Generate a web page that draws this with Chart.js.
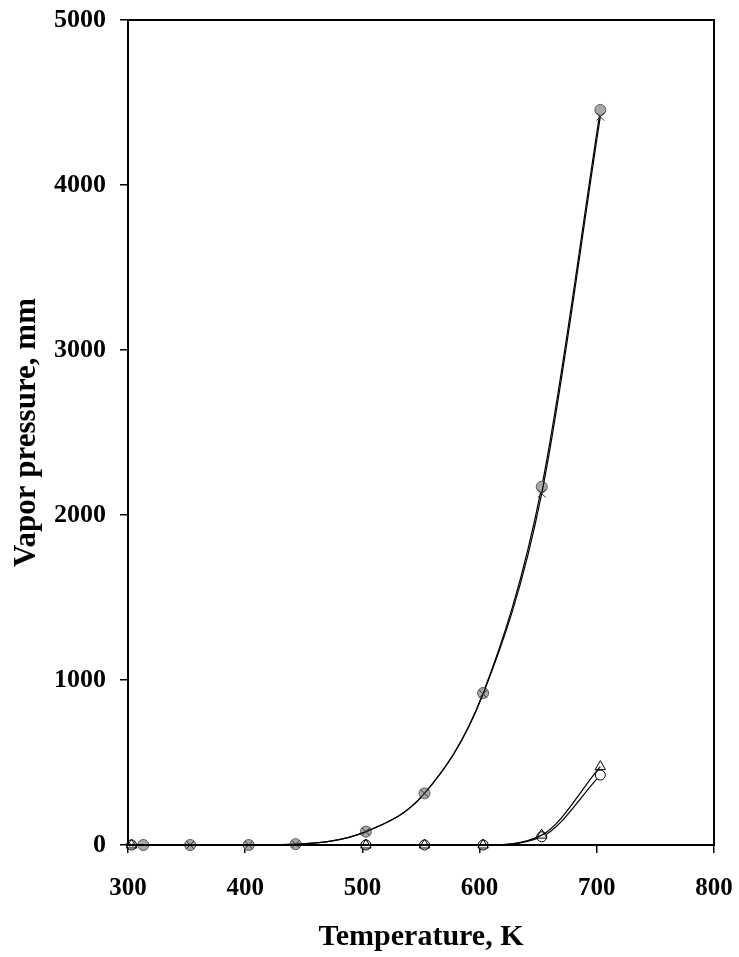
<!DOCTYPE html>
<html>
<head>
<meta charset="utf-8">
<script src="https://cdn.jsdelivr.net/npm/chart.js@4"></script>
<style>
  html, body { margin: 0; padding: 0; background: #fff; }
  #wrap { width: 739px; height: 957px; position: relative; }
</style>
</head>
<body>
<div id="wrap"><canvas id="vpChart"></canvas></div>
<script>
// ── Data ───────────────────────────────────────────────────
const tempsFilled   = [313, 353, 403, 443, 503, 553, 603, 653, 703];
const filledValues  = [0, 0, 0, 5, 81, 313, 921, 2171, 4455];

const tempsCross    = [303, 353, 403, 443, 503, 553, 603, 653, 703];
const crossValues   = [0, 0, 0, 5, 81, 313, 915, 2130, 4414];

const tempsOpen     = [303, 503, 553, 603, 653, 703];
const triangleVals  = [0, 0, 0, 0, 60, 475];
const openCircleVals = [0, 0, 0, 0, 50, 424];

const xTicks = [300, 400, 500, 600, 700, 800];
const yTicks = [0, 1000, 2000, 3000, 4000, 5000];

const SERIF = "'Liberation Serif', 'Times New Roman', serif";

const toPoints = (xs, ys) => xs.map((x, i) => ({ x, y: ys[i] }));

// full box round the plot area
const frame = {
  id: 'frame',
  afterDatasetsDraw(chart) {
    const { ctx, chartArea: a } = chart;
    ctx.save();
    ctx.strokeStyle = '#000';
    ctx.lineWidth = 2;
    ctx.strokeRect(a.left, a.top, a.right - a.left, a.bottom - a.top);
    ctx.restore();
  },
};

const lineBase = {
  showLine: true,
  borderColor: '#000',
  borderWidth: 1.2,
  cubicInterpolationMode: 'monotone',
  clip: false,
};

new Chart(document.getElementById('vpChart'), {
  type: 'scatter',
  data: {
    datasets: [
      {
        ...lineBase,
        label: 'filled circle',
        data: toPoints(tempsFilled, filledValues),
        pointStyle: 'circle',
        pointRadius: 5.5,
        pointBackgroundColor: '#a8a8a8',
        pointBorderColor: '#5a5a5a',
        pointBorderWidth: 1,
        order: 2,
      },
      {
        ...lineBase,
        label: 'cross',
        data: toPoints(tempsCross, crossValues),
        pointStyle: 'crossRot',
        pointRadius: 5.5,
        pointBorderColor: '#333',
        pointBorderWidth: 1,
        order: 1,
      },
      {
        ...lineBase,
        label: 'open circle',
        data: toPoints(tempsOpen, openCircleVals),
        pointStyle: 'circle',
        pointRadius: 5,
        pointBackgroundColor: '#fff',
        pointBorderColor: '#000',
        pointBorderWidth: 1,
        order: 4,
      },
      {
        ...lineBase,
        label: 'triangle',
        data: toPoints(tempsOpen, triangleVals),
        pointStyle: 'triangle',
        pointRadius: 6,
        pointBackgroundColor: 'rgba(255,255,255,0)',
        pointBorderColor: '#000',
        pointBorderWidth: 1,
        order: 3,
      },
    ],
  },
  options: {
    responsive: true,
    maintainAspectRatio: false,
    animation: false,
    layout: { padding: { left: 0, top: 20, right: 25, bottom: 0 } },
    plugins: {
      legend: { display: false },
      tooltip: { enabled: false },
    },
    scales: {
      x: {
        type: 'linear',
        min: 300, max: 800,
        afterBuildTicks: s => { s.ticks = xTicks.map(v => ({ value: v })); },
        afterFit: s => { s.height = 112; s.paddingLeft = 0; s.paddingRight = 0; },
        grid: { display: true, drawOnChartArea: false, drawTicks: true, tickLength: 8, color: '#000', lineWidth: 1.5 },
        border: { display: true, color: '#000', width: 2 },
        ticks: {
          color: '#000', padding: 21, maxRotation: 0,
          font: { family: SERIF, size: 25, weight: 'bold' },
          callback: v => String(v),
        },
        title: {
          display: true, text: 'Temperature, K', color: '#000',
          font: { family: SERIF, size: 30, weight: 'bold' },
          padding: { top: 0, bottom: 2 },
        },
      },
      y: {
        type: 'linear',
        min: 0, max: 5000,
        afterBuildTicks: s => { s.ticks = yTicks.map(v => ({ value: v })); },
        afterFit: s => { s.width = 128; s.paddingTop = 0; s.paddingBottom = 0; },
        grid: { display: true, drawOnChartArea: false, drawTicks: true, tickLength: 8, color: '#000', lineWidth: 1.5 },
        border: { display: true, color: '#000', width: 2 },
        ticks: {
          color: '#000', padding: 14,
          font: { family: SERIF, size: 26, weight: 'bold' },
          callback: v => String(v),
        },
        title: {
          display: true, text: 'Vapor pressure, mm', color: '#000',
          font: { family: SERIF, size: 31, weight: 'bold' },
          padding: { top: 8, bottom: 0 },
        },
      },
    },
  },
  plugins: [frame],
});
</script>
</body>
</html>
